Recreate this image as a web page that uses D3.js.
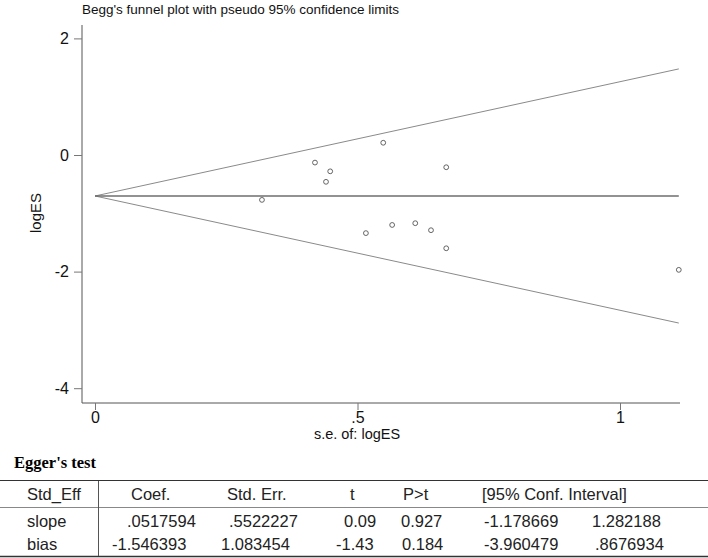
<!DOCTYPE html>
<html><head><meta charset="utf-8">
<script src="https://cdn.jsdelivr.net/npm/d3@7"></script>
<style>body{margin:0;background:#fff;} svg{display:block;}</style>
</head><body>
<script>
// ---- data ----
const studySE = [0.318, 0.419, 0.448, 0.440, 0.549, 0.669, 0.516, 0.566, 0.610, 0.640, 0.669, 1.112];
const studyLogES = [-0.77, -0.13, -0.28, -0.46, 0.21, -0.21, -1.34, -1.20, -1.17, -1.29, -1.60, -1.97];
const pooledLogES = -0.703;
const maxSE = 1.112;
const yTicks = [2, 0, -2, -4];
const xTicks = [0, 0.5, 1];
const xTickLabels = ["0", ".5", "1"];
const tableHeader = ["Std_Eff", "Coef.", "Std. Err.", "t", "P>t", "[95% Conf. Interval]"];
const rowNames = ["slope", "bias"];
const rowCoef = [".0517594", "-1.546393"];
const rowStdErr = [".5522227", "1.083454"];
const rowT = ["0.09", "-1.43"];
const rowP = ["0.927", "0.184"];
const rowLo = ["-1.178669", "-3.960479"];
const rowHi = ["1.282188", ".8676934"];

const W = 708, H = 558;
const svg = d3.select("body").append("svg").attr("width", W).attr("height", H);

const x = d3.scaleLinear().domain([0, 1]).range([95, 620]);
const y = d3.scaleLinear().domain([0, -2]).range([155, 271.6]);
const axisX0 = 82, axisY0 = 403;
const sans = "'Liberation Sans', Arial, sans-serif";

// title
svg.append("text").attr("x", 82).attr("y", 14).attr("font-family", sans).attr("font-size", 13.5)
  .attr("fill", "#111").text("Begg's funnel plot with pseudo 95% confidence limits");

// funnel lines
const lineCol = "#8a8a8a";
const fl = [
  [[0, pooledLogES], [maxSE, pooledLogES + 1.96 * maxSE]],
  [[0, pooledLogES], [maxSE, pooledLogES - 1.96 * maxSE]],
];
fl.forEach(seg => {
  svg.append("line").attr("x1", x(seg[0][0])).attr("y1", y(seg[0][1]))
    .attr("x2", x(seg[1][0])).attr("y2", y(seg[1][1]))
    .attr("stroke", lineCol).attr("stroke-width", 1);
});
svg.append("line").attr("x1", x(0)).attr("y1", y(pooledLogES)).attr("x2", x(maxSE)).attr("y2", y(pooledLogES))
  .attr("stroke", "#6e6e6e").attr("stroke-width", 1.3);

// points
svg.selectAll("circle.pt").data(studySE.map((s, i) => [s, studyLogES[i]])).enter()
  .append("circle").attr("class", "pt")
  .attr("cx", d => x(d[0])).attr("cy", d => y(d[1])).attr("r", 2.4)
  .attr("fill", "none").attr("stroke", "#555").attr("stroke-width", 0.9);

// axes
const axCol = "#555";
svg.append("line").attr("x1", axisX0).attr("y1", 25).attr("x2", axisX0).attr("y2", axisY0)
  .attr("stroke", axCol).attr("stroke-width", 1);
svg.append("line").attr("x1", axisX0).attr("y1", axisY0).attr("x2", 680).attr("y2", axisY0)
  .attr("stroke", axCol).attr("stroke-width", 1);

const yAxis = d3.axisLeft(y).tickValues(yTicks).tickSize(8).tickPadding(5).tickFormat(d => String(d));
const gy = svg.append("g").attr("transform", `translate(${axisX0},0)`).call(yAxis);
gy.select(".domain").remove();
gy.selectAll(".tick line").attr("stroke", "#777");
gy.selectAll(".tick text").attr("font-family", sans).attr("font-size", 16).attr("fill", "#111");

const xAxis = d3.axisBottom(x).tickValues(xTicks).tickSize(7).tickPadding(2).tickFormat((d, i) => xTickLabels[i]);
const gx = svg.append("g").attr("transform", `translate(0,${axisY0})`).call(xAxis);
gx.select(".domain").remove();
gx.selectAll(".tick line").attr("stroke", "#777");
gx.selectAll(".tick text").attr("font-family", sans).attr("font-size", 16).attr("fill", "#111");

svg.append("text").attr("transform", "translate(41,213) rotate(-90)").attr("text-anchor", "middle")
  .attr("font-family", sans).attr("font-size", 15).attr("fill", "#111").text("logES");
svg.append("text").attr("x", 357).attr("y", 439).attr("text-anchor", "middle")
  .attr("font-family", sans).attr("font-size", 14.5).attr("fill", "#111").text("s.e. of: logES");

// Egger's test table
svg.append("text").attr("x", 14).attr("y", 468).attr("font-family", "'Liberation Serif', 'Times New Roman', serif")
  .attr("font-weight", "bold").attr("font-size", 16.5).attr("fill", "#000").text("Egger's test");

const tf = "'Liberation Sans', Arial, sans-serif";
const tcol = "#222";
svg.append("line").attr("x1", 0).attr("x2", W).attr("y1", 480.5).attr("y2", 480.5).attr("stroke", "#333").attr("stroke-width", 1.2);
svg.append("line").attr("x1", 0).attr("x2", W).attr("y1", 507.5).attr("y2", 507.5).attr("stroke", "#888").attr("stroke-width", 1.2);
svg.append("line").attr("x1", 0).attr("x2", W).attr("y1", 556.5).attr("y2", 556.5).attr("stroke", "#333").attr("stroke-width", 1.5);
svg.append("line").attr("x1", 98.5).attr("x2", 98.5).attr("y1", 481).attr("y2", 556).attr("stroke", "#555").attr("stroke-width", 1);

const headerX = [27, 131, 227, 350, 403, 482];
tableHeader.forEach((t, i) => {
  svg.append("text").attr("x", headerX[i]).attr("y", 500).attr("font-family", tf).attr("font-size", 16.5)
    .attr("fill", tcol).text(t);
});
const cols = [rowCoef, rowStdErr, rowT, rowP, rowLo, rowHi];
const colStart = [[127, 112], [229, 221], [344, 336], [401, 402], [484, 484], [592, 595]];
rowNames.forEach((nm, r) => {
  const yy = 527 + r * 23;
  svg.append("text").attr("x", 27).attr("y", yy).attr("font-family", tf).attr("font-size", 16.5).attr("fill", tcol).text(nm);
  cols.forEach((c, j) => {
    svg.append("text").attr("x", colStart[j][r]).attr("y", yy)
      .attr("font-family", tf).attr("font-size", 16.5).attr("fill", tcol).text(c[r]);
  });
});
</script>
</body></html>
